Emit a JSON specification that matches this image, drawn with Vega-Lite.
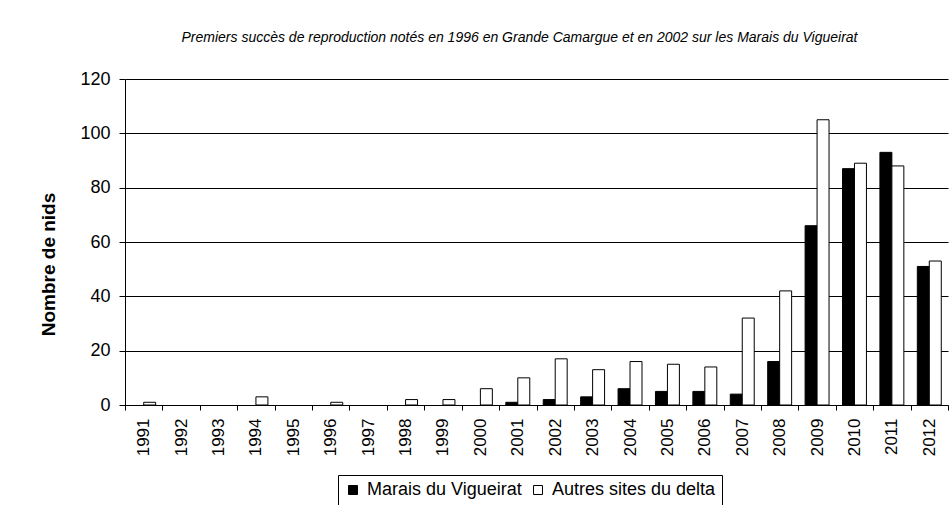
{
  "$schema": "https://vega.github.io/schema/vega-lite/v6.json",
  "width": 823,
  "height": 326,
  "autosize": {"type": "none"},
  "padding": {"left": 125, "top": 79, "right": 1, "bottom": 100},
  "background": "white",
  "title": {
    "text": "Premiers succès de reproduction notés en 1996 en Grande Camargue et en 2002 sur les Marais du Vigueirat",
    "font": "Liberation Sans",
    "fontSize": 14,
    "fontStyle": "italic",
    "fontWeight": "normal",
    "color": "black",
    "anchor": "middle",
    "frame": "group",
    "offset": 25,
    "dx": -17
  },
  "data": {
    "values": [
      {"year": "1991", "series": "Marais du Vigueirat", "value": 0},
      {"year": "1991", "series": "Autres sites du delta", "value": 1},
      {"year": "1992", "series": "Marais du Vigueirat", "value": 0},
      {"year": "1992", "series": "Autres sites du delta", "value": 0},
      {"year": "1993", "series": "Marais du Vigueirat", "value": 0},
      {"year": "1993", "series": "Autres sites du delta", "value": 0},
      {"year": "1994", "series": "Marais du Vigueirat", "value": 0},
      {"year": "1994", "series": "Autres sites du delta", "value": 3},
      {"year": "1995", "series": "Marais du Vigueirat", "value": 0},
      {"year": "1995", "series": "Autres sites du delta", "value": 0},
      {"year": "1996", "series": "Marais du Vigueirat", "value": 0},
      {"year": "1996", "series": "Autres sites du delta", "value": 1},
      {"year": "1997", "series": "Marais du Vigueirat", "value": 0},
      {"year": "1997", "series": "Autres sites du delta", "value": 0},
      {"year": "1998", "series": "Marais du Vigueirat", "value": 0},
      {"year": "1998", "series": "Autres sites du delta", "value": 2},
      {"year": "1999", "series": "Marais du Vigueirat", "value": 0},
      {"year": "1999", "series": "Autres sites du delta", "value": 2},
      {"year": "2000", "series": "Marais du Vigueirat", "value": 0},
      {"year": "2000", "series": "Autres sites du delta", "value": 6},
      {"year": "2001", "series": "Marais du Vigueirat", "value": 1},
      {"year": "2001", "series": "Autres sites du delta", "value": 10},
      {"year": "2002", "series": "Marais du Vigueirat", "value": 2},
      {"year": "2002", "series": "Autres sites du delta", "value": 17},
      {"year": "2003", "series": "Marais du Vigueirat", "value": 3},
      {"year": "2003", "series": "Autres sites du delta", "value": 13},
      {"year": "2004", "series": "Marais du Vigueirat", "value": 6},
      {"year": "2004", "series": "Autres sites du delta", "value": 16},
      {"year": "2005", "series": "Marais du Vigueirat", "value": 5},
      {"year": "2005", "series": "Autres sites du delta", "value": 15},
      {"year": "2006", "series": "Marais du Vigueirat", "value": 5},
      {"year": "2006", "series": "Autres sites du delta", "value": 14},
      {"year": "2007", "series": "Marais du Vigueirat", "value": 4},
      {"year": "2007", "series": "Autres sites du delta", "value": 32},
      {"year": "2008", "series": "Marais du Vigueirat", "value": 16},
      {"year": "2008", "series": "Autres sites du delta", "value": 42},
      {"year": "2009", "series": "Marais du Vigueirat", "value": 66},
      {"year": "2009", "series": "Autres sites du delta", "value": 105},
      {"year": "2010", "series": "Marais du Vigueirat", "value": 87},
      {"year": "2010", "series": "Autres sites du delta", "value": 89},
      {"year": "2011", "series": "Marais du Vigueirat", "value": 93},
      {"year": "2011", "series": "Autres sites du delta", "value": 88},
      {"year": "2012", "series": "Marais du Vigueirat", "value": 51},
      {"year": "2012", "series": "Autres sites du delta", "value": 53}
    ]
  },
  "mark": {"type": "bar", "stroke": "black", "strokeWidth": 1},
  "encoding": {
    "x": {
      "field": "year",
      "type": "ordinal",
      "scale": {
        "domain": ["1991", "1992", "1993", "1994", "1995", "1996", "1997", "1998", "1999", "2000", "2001", "2002", "2003", "2004", "2005", "2006", "2007", "2008", "2009", "2010", "2011", "2012"],
        "paddingInner": 0,
        "paddingOuter": 0
      },
      "axis": {
        "title": null,
        "labelAngle": -90,
        "labelFont": "Liberation Sans",
        "labelFontSize": 17,
        "labelColor": "black",
        "labelPadding": 8,
        "tickBand": "extent",
        "tickSize": 5,
        "tickColor": "black",
        "domainColor": "black",
        "grid": false
      }
    },
    "xOffset": {
      "field": "series",
      "type": "nominal",
      "scale": {
        "domain": ["Marais du Vigueirat", "Autres sites du delta"],
        "paddingInner": 0,
        "paddingOuter": 0.5625
      }
    },
    "y": {
      "field": "value",
      "type": "quantitative",
      "scale": {"domain": [0, 120], "nice": false},
      "axis": {
        "values": [0, 20, 40, 60, 80, 100, 120],
        "title": "Nombre de nids",
        "titleFont": "Liberation Sans",
        "titleFontSize": 19,
        "titleFontWeight": "bold",
        "titleColor": "black",
        "titleAngle": 270,
        "titleAlign": "center",
        "titleBaseline": "middle",
        "titleX": -77,
        "titleY": 185,
        "labelFont": "Liberation Sans",
        "labelFontSize": 18,
        "labelColor": "black",
        "labelPadding": 9,
        "tickSize": 6,
        "tickColor": "black",
        "domainColor": "black",
        "grid": true,
        "gridColor": "black",
        "gridWidth": 1
      }
    },
    "color": {
      "field": "series",
      "type": "nominal",
      "scale": {
        "domain": ["Marais du Vigueirat", "Autres sites du delta"],
        "range": ["black", "white"]
      },
      "legend": {
        "orient": "none",
        "legendX": 213,
        "legendY": 396,
        "direction": "horizontal",
        "title": null,
        "strokeColor": "black",
        "fillColor": "white",
        "padding": 6,
        "symbolType": "square",
        "symbolSize": 81,
        "symbolStrokeColor": "black",
        "symbolStrokeWidth": 1,
        "labelFont": "Liberation Sans",
        "labelFontSize": 18,
        "labelColor": "black",
        "labelOffset": 5,
        "labelLimit": 300,
        "columnPadding": 7
      }
    }
  },
  "transform": [{"filter": "datum.value > 0"}],
  "config": {"view": {"stroke": null}}
}
